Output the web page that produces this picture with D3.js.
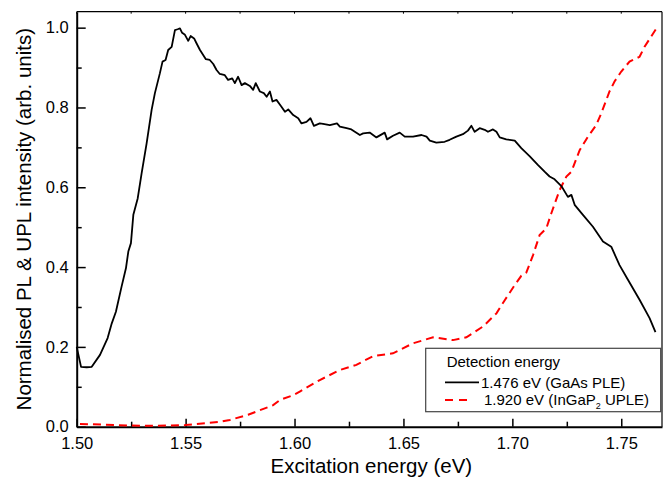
<!DOCTYPE html>
<html>
<head>
<meta charset="utf-8">
<script src="https://cdn.jsdelivr.net/npm/d3@7"></script>
<style>
  body { margin: 0; background: #fff; }
  svg { font-family: "Liberation Sans", Arial, sans-serif; }
</style>
</head>
<body>
<div id="chart"></div>
<script>
// GaAs PLE (detection 1.476 eV)
var pleX = [1.5000, 1.5020, 1.5046, 1.5069, 1.5107, 1.5142, 1.5161, 1.5180, 1.5206, 1.5226,
  1.5237, 1.5249, 1.5260, 1.5280, 1.5298, 1.5321, 1.5344, 1.5359, 1.5382, 1.5394,
  1.5408, 1.5420, 1.5436, 1.5451, 1.5463, 1.5474, 1.5484, 1.5497, 1.5512, 1.5523,
  1.5539, 1.5550, 1.5566, 1.5593, 1.5611, 1.5627, 1.5642, 1.5657, 1.5680, 1.5695,
  1.5714, 1.5726, 1.5741, 1.5757, 1.5772, 1.5795, 1.5810, 1.5822, 1.5841, 1.5859,
  1.5872, 1.5887, 1.5899, 1.5917, 1.5940, 1.5956, 1.5971, 1.5994, 1.6017, 1.6032,
  1.6055, 1.6073, 1.6089, 1.6116, 1.6131, 1.6162, 1.6195, 1.6208, 1.6239, 1.6261,
  1.6300, 1.6315, 1.6345, 1.6376, 1.6414, 1.6425, 1.6452, 1.6483, 1.6506, 1.6544,
  1.6583, 1.6606, 1.6621, 1.6651, 1.6689, 1.6712, 1.6743, 1.6773, 1.6796, 1.6812,
  1.6827, 1.6850, 1.6873, 1.6888, 1.6911, 1.6927, 1.6942, 1.6972, 1.7011, 1.7041,
  1.7079, 1.7117, 1.7148, 1.7171, 1.7194, 1.7225, 1.7255, 1.7271, 1.7286, 1.7324,
  1.7370, 1.7416, 1.7454, 1.7492, 1.7530, 1.7584, 1.7630, 1.7657];
var pleY = [0.200, 0.150, 0.149, 0.150, 0.180, 0.222, 0.259, 0.288, 0.351, 0.397,
  0.439, 0.460, 0.531, 0.572, 0.635, 0.710, 0.794, 0.836, 0.886, 0.915,
  0.919, 0.944, 0.952, 0.994, 0.996, 0.998, 0.987, 0.982, 0.967, 0.979,
  0.973, 0.961, 0.944, 0.921, 0.919, 0.909, 0.894, 0.884, 0.881, 0.869,
  0.873, 0.861, 0.877, 0.856, 0.861, 0.854, 0.844, 0.861, 0.840, 0.836,
  0.827, 0.840, 0.815, 0.819, 0.802, 0.789, 0.795, 0.781, 0.773, 0.760,
  0.764, 0.773, 0.754, 0.760, 0.759, 0.756, 0.760, 0.752, 0.748, 0.745,
  0.731, 0.735, 0.737, 0.725, 0.737, 0.720, 0.729, 0.737, 0.727, 0.727,
  0.731, 0.727, 0.717, 0.712, 0.714, 0.719, 0.727, 0.733, 0.742, 0.754,
  0.739, 0.748, 0.744, 0.739, 0.745, 0.739, 0.725, 0.720, 0.717, 0.698,
  0.678, 0.656, 0.639, 0.627, 0.620, 0.603, 0.576, 0.581, 0.556, 0.531,
  0.501, 0.464, 0.451, 0.405, 0.369, 0.318, 0.272, 0.237];

// InGaP2 UPLE (detection 1.920 eV)
var upleX = [1.5015, 1.5306, 1.5500, 1.5657, 1.5703, 1.5787, 1.5902, 1.5933, 1.5994, 1.6024,
  1.6116, 1.6208, 1.6284, 1.6361, 1.6452, 1.6544, 1.6636, 1.6728, 1.6789, 1.6865,
  1.6927, 1.6965, 1.7011, 1.7041, 1.7064, 1.7095, 1.7125, 1.7156, 1.7179, 1.7217,
  1.7248, 1.7271, 1.7309, 1.7347, 1.7385, 1.7408, 1.7446, 1.7469, 1.7500, 1.7538,
  1.7584, 1.7607, 1.7661];
var upleY = [0.007, 0.002, 0.004, 0.012, 0.017, 0.030, 0.054, 0.067, 0.079, 0.088,
  0.117, 0.142, 0.155, 0.177, 0.184, 0.209, 0.224, 0.217, 0.224, 0.251,
  0.284, 0.317, 0.355, 0.378, 0.386, 0.430, 0.480, 0.497, 0.535, 0.593,
  0.627, 0.639, 0.693, 0.727, 0.756, 0.785, 0.840, 0.865, 0.890, 0.915,
  0.927, 0.952, 0.998];

var xMajor = [1.50, 1.55, 1.60, 1.65, 1.70, 1.75];
var xMinor = [1.525, 1.575, 1.625, 1.675, 1.725];
var yMajor = [0.0, 0.2, 0.4, 0.6, 0.8, 1.0];
var yMinor = [0.1, 0.3, 0.5, 0.7, 0.9];

var width = 663, height = 479;
var plotL = 76.7, plotR = 662, plotT = 11.7, plotB = 426.7;

var x = d3.scaleLinear().domain([1.50, 1.7687]).range([plotL, plotR]);
var y = d3.scaleLinear().domain([0, 1.04]).range([plotB, plotT]);

var svg = d3.select("#chart").append("svg")
    .attr("width", width)
    .attr("height", height);

// frame: top (thin) and right
svg.append("line").attr("x1", plotL).attr("x2", plotR).attr("y1", plotT).attr("y2", plotT)
    .attr("stroke", "#000").attr("stroke-width", 1.2);
svg.append("line").attr("x1", plotR).attr("x2", plotR).attr("y1", plotT).attr("y2", plotB)
    .attr("stroke", "#000").attr("stroke-width", 1.2);

// top small ticks
svg.selectAll(".ttick").data(xMajor.concat(xMinor)).enter().append("line")
    .attr("x1", function (d) { return x(d); })
    .attr("x2", function (d) { return x(d); })
    .attr("y1", plotT).attr("y2", plotT + 2)
    .attr("stroke", "#000").attr("stroke-width", 1);

// bottom axis, inward ticks
var xAxis = d3.axisBottom(x).tickValues(xMajor).tickSizeInner(-8).tickSizeOuter(0).tickPadding(11)
    .tickFormat(d3.format(".2f"));
var gx = svg.append("g").attr("transform", "translate(0," + plotB + ")").call(xAxis);
gx.select(".domain").attr("stroke-width", 2);
gx.selectAll(".tick line").attr("stroke-width", 1.5);
gx.selectAll(".tick text").attr("font-size", 16.5).attr("font-family", "Liberation Sans, Arial, sans-serif");

var gxm = svg.append("g").attr("transform", "translate(0," + plotB + ")")
    .call(d3.axisBottom(x).tickValues(xMinor).tickSize(-5).tickFormat(""));
gxm.select(".domain").remove();
gxm.selectAll(".tick line").attr("stroke-width", 1.5);

// left axis, inward ticks
var yAxis = d3.axisLeft(y).tickValues(yMajor).tickSizeInner(-9).tickSizeOuter(0).tickPadding(8)
    .tickFormat(d3.format(".1f"));
var gy = svg.append("g").attr("transform", "translate(" + plotL + ",0)").call(yAxis);
gy.select(".domain").attr("stroke-width", 2);
gy.selectAll(".tick line").attr("stroke-width", 1.5);
gy.selectAll(".tick text").attr("font-size", 16.5).attr("font-family", "Liberation Sans, Arial, sans-serif");

var gym = svg.append("g").attr("transform", "translate(" + plotL + ",0)")
    .call(d3.axisLeft(y).tickValues(yMinor).tickSize(-5).tickFormat(""));
gym.select(".domain").remove();
gym.selectAll(".tick line").attr("stroke-width", 1.5);

// axis titles
svg.append("text")
    .attr("x", (plotL + plotR) / 2 + 2)
    .attr("y", 473)
    .attr("text-anchor", "middle")
    .attr("font-size", 20.5)
    .text("Excitation energy (eV)");

svg.append("text")
    .attr("transform", "translate(30.5," + ((plotT + plotB) / 2) + ") rotate(-90)")
    .attr("text-anchor", "middle")
    .attr("font-size", 20.5)
    .text("Normalised PL & UPL intensity (arb. units)");

// curves
var line = d3.line()
    .x(function (d) { return x(d[0]); })
    .y(function (d) { return y(d[1]); });

var ple = pleX.map(function (v, i) { return [v, pleY[i]]; });
var uple = upleX.map(function (v, i) { return [v, upleY[i]]; });

svg.append("path")
    .datum(uple)
    .attr("d", line)
    .attr("fill", "none")
    .attr("stroke", "#ff0000")
    .attr("stroke-width", 2)
    .attr("stroke-dasharray", "8,5");

svg.append("path")
    .datum(ple)
    .attr("d", line)
    .attr("fill", "none")
    .attr("stroke", "#000")
    .attr("stroke-width", 1.8)
    .attr("stroke-linejoin", "round");

// legend
var lg = svg.append("g");
lg.append("rect")
    .attr("x", 425.7).attr("y", 348.3)
    .attr("width", 235).attr("height", 63.4)
    .attr("fill", "#fff")
    .attr("stroke", "#444")
    .attr("stroke-width", 1.2);

lg.append("text").attr("x", 446.7).attr("y", 366.5).attr("font-size", 15)
    .text("Detection energy");

lg.append("line").attr("x1", 445).attr("x2", 479).attr("y1", 382.3).attr("y2", 382.3)
    .attr("stroke", "#000").attr("stroke-width", 1.8);
lg.append("text").attr("x", 481).attr("y", 387.5).attr("font-size", 15)
    .text("1.476 eV (GaAs PLE)");

lg.append("line").attr("x1", 445).attr("x2", 467).attr("y1", 400).attr("y2", 400)
    .attr("stroke", "#ff0000").attr("stroke-width", 2)
    .attr("stroke-dasharray", "8,6");
var t3 = lg.append("text").attr("x", 484).attr("y", 404.5).attr("font-size", 15);
t3.append("tspan").text("1.920 eV (InGaP");
t3.append("tspan").attr("font-size", 9).attr("dy", 4).text("2");
t3.append("tspan").attr("dy", -4).text(" UPLE)");
</script>
</body>
</html>
